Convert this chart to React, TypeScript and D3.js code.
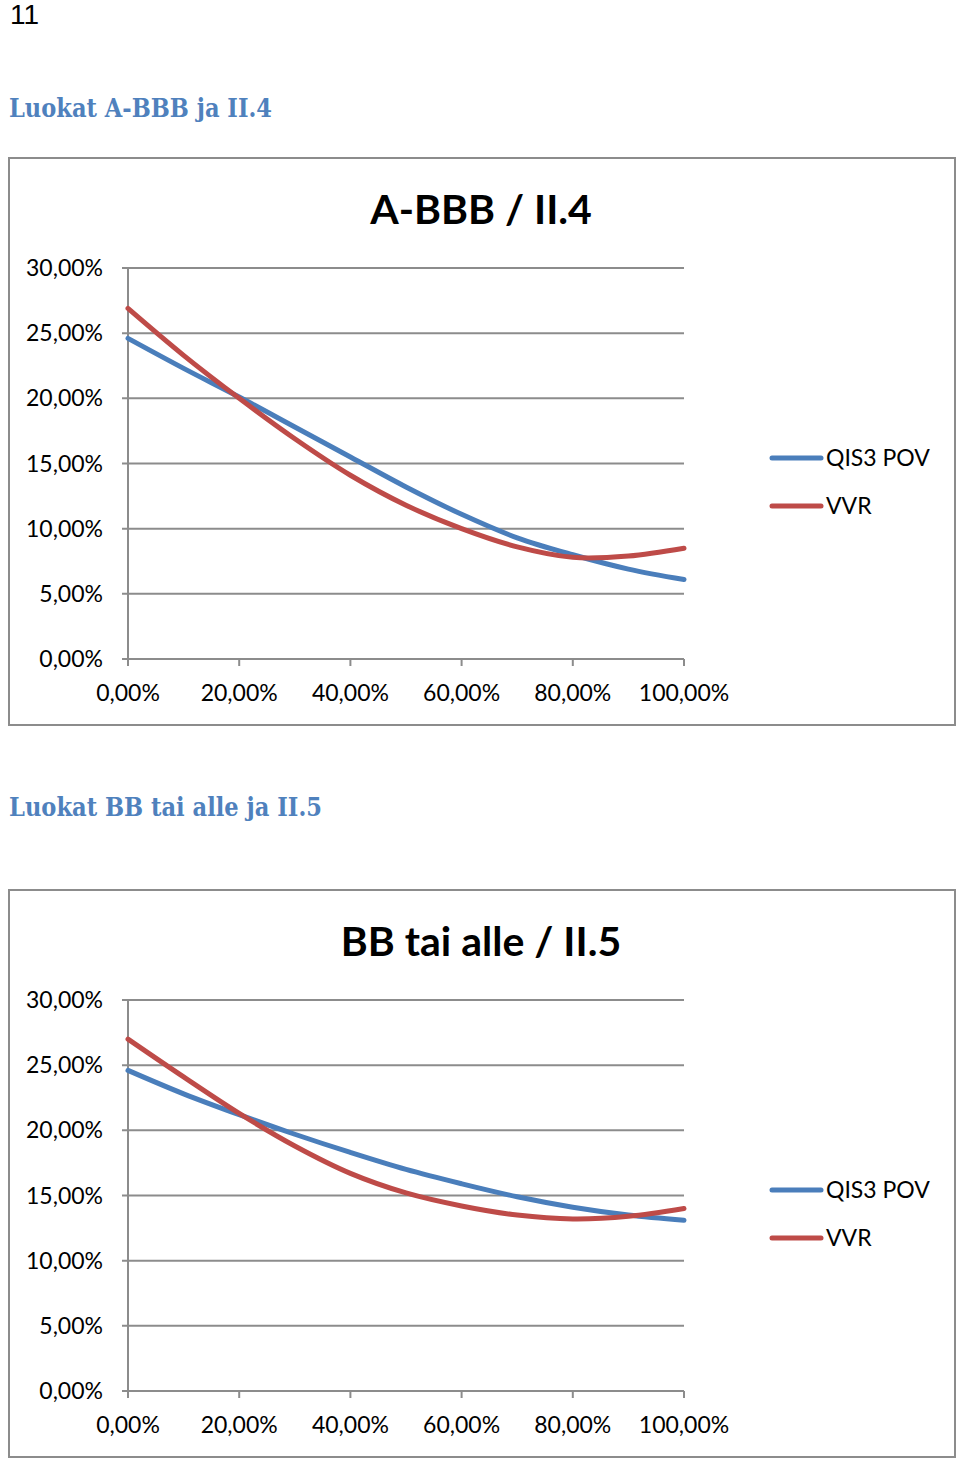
import React from 'react';
import * as d3 from 'd3';

// x positions (share of portfolio)
const xTicks = [0, 0.2, 0.4, 0.6, 0.8, 1.0];
const xPoints = [0, 0.1, 0.2, 0.3, 0.4, 0.5, 0.6, 0.7, 0.8, 0.9, 1.0];
const yTicks = [0, 0.05, 0.1, 0.15, 0.2, 0.25, 0.3];

// A-BBB / II.4
const qisAbbb = [0.246, 0.223, 0.201, 0.178, 0.155, 0.132, 0.111, 0.093, 0.08, 0.069, 0.061];
const vvrAbbb = [0.269, 0.233, 0.2, 0.169, 0.141, 0.118, 0.1, 0.086, 0.078, 0.079, 0.085];

// BB tai alle / II.5
const qisBb = [0.246, 0.228, 0.212, 0.197, 0.183, 0.17, 0.159, 0.149, 0.141, 0.135, 0.131];
const vvrBb = [0.27, 0.241, 0.213, 0.188, 0.167, 0.152, 0.142, 0.135, 0.132, 0.134, 0.14];

const seriesNames = ['QIS3 POV', 'VVR'];
const seriesColors = ['#4a7ebb', '#be4b48'];

const chartFont = 'Lato, "Open Sans", sans-serif';
const headFont = '"DejaVu Serif", serif';
const fmt = (v: number) => (v * 100).toFixed(2).replace('.', ',') + '%';

const Chart = ({ top, title, blue, red }: { top: number; title: string; blue: number[]; red: number[] }) => {
  const boxTop = top;
  const plotTop = boxTop + 110;
  const plotBottom = boxTop + 501;
  const x = d3.scaleLinear().domain([0, 1]).range([128, 684]);
  const y = d3.scaleLinear().domain([0, 0.3]).range([plotBottom, plotTop]);
  const line = d3.line<number>()
    .x((_, i) => x(xPoints[i]))
    .y(d => y(d))
    .curve(d3.curveCatmullRom.alpha(0.5));
  const series = [blue, red];

  return (
    <g>
      <rect x={9} y={boxTop} width={946} height={567} fill="#fff" stroke="#8c8c8c" strokeWidth={2} />
      <text x={481} y={boxTop + 66} textAnchor="middle" fontFamily={chartFont} fontWeight="bold" fontSize={41} fill="#000">
        {title}
      </text>
      {yTicks.map(t => (
        <g key={t}>
          <line x1={122} x2={684} y1={y(t)} y2={y(t)} stroke="#8c8c8c" strokeWidth={2} />
          <text x={103} y={y(t)} dy="0.35em" textAnchor="end" fontFamily={chartFont} fontSize={23} fill="#000">
            {fmt(t)}
          </text>
        </g>
      ))}
      <line x1={128} x2={128} y1={plotTop} y2={plotBottom} stroke="#8c8c8c" strokeWidth={2} />
      {xTicks.map(t => (
        <g key={t}>
          <line x1={x(t)} x2={x(t)} y1={plotBottom} y2={plotBottom + 7} stroke="#8c8c8c" strokeWidth={2} />
          <text x={x(t)} y={plotBottom + 42} textAnchor="middle" fontFamily={chartFont} fontSize={23} fill="#000">
            {fmt(t)}
          </text>
        </g>
      ))}
      {series.map((s, i) => (
        <path key={i} d={line(s) || ''} fill="none" stroke={seriesColors[i]} strokeWidth={5} strokeLinecap="round" />
      ))}
      {seriesNames.map((n, i) => (
        <g key={n} transform={`translate(0, ${boxTop + 300 + i * 48})`}>
          <line x1={772} x2={821} y1={0} y2={0} stroke={seriesColors[i]} strokeWidth={5} strokeLinecap="round" />
          <text x={826} y={0} dy="0.35em" fontFamily={chartFont} fontSize={23} fill="#000">
            {n}
          </text>
        </g>
      ))}
    </g>
  );
};

export default function App() {
  return (
    <svg width={960} height={1459} style={{ position: 'absolute', left: 0, top: 0, background: '#fff' }}>
      <text x={10} y={24} fontFamily='"Liberation Sans", Arial, sans-serif' fontSize={28} fill="#000">11</text>
      <text x={9} y={117} fontFamily={headFont} fontWeight="bold" fontSize={26} fill="#4f81bd"
        textLength={263} lengthAdjust="spacingAndGlyphs">
        Luokat A-BBB ja II.4
      </text>
      <Chart top={158} title="A-BBB / II.4" blue={qisAbbb} red={vvrAbbb} />
      <text x={9} y={816} fontFamily={headFont} fontWeight="bold" fontSize={26} fill="#4f81bd"
        textLength={313} lengthAdjust="spacingAndGlyphs">
        Luokat BB tai alle ja II.5
      </text>
      <Chart top={890} title="BB tai alle / II.5" blue={qisBb} red={vvrBb} />
    </svg>
  );
}
